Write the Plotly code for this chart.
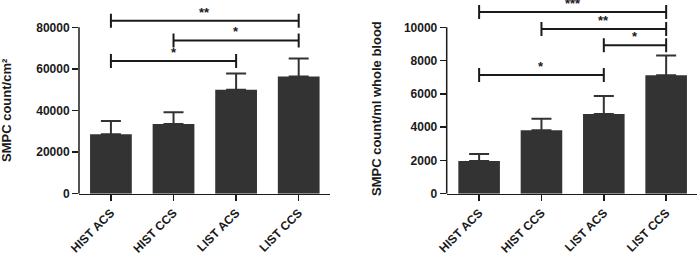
import plotly.graph_objects as go

categories = ["HIST ACS", "HIST CCS", "LIST ACS", "LIST CCS"]

tissue_mean = [28600, 33500, 50000, 56300]
tissue_sem = [6400, 5700, 7800, 8700]

blood_mean = [1970, 3810, 4790, 7120]
blood_sem = [410, 690, 1080, 1180]

tissue_ticks = [0, 20000, 40000, 60000, 80000]
blood_ticks = [0, 2000, 4000, 6000, 8000, 10000]

# significance brackets: (from index, to index, level, label)
tissue_sig = [(0, 3, 83200, "**"), (1, 3, 73700, "*"), (0, 2, 63800, "*")]
blood_sig = [(0, 3, 10920, "***"), (1, 3, 9900, "**"), (2, 3, 8920, "*"), (0, 2, 7130, "*")]

BAR = "#333333"
INK = "#1a1a1a"
FONT = "Liberation Sans, Arial, sans-serif"

W, H = 700, 253
y0_px = 193.7  # pixel row of value 0
px_per_unit_t = 166.4 / 80000
px_per_unit_b = 166.4 / 10000

fig = go.Figure()
xs = list(range(len(categories)))

fig.add_trace(go.Bar(x=xs, y=tissue_mean, marker=dict(color=BAR, line=dict(width=0)),
                     error_y=dict(type="data", symmetric=False, array=tissue_sem,
                                  arrayminus=[0] * 4, color=BAR, thickness=2, width=10),
                     xaxis="x", yaxis="y", showlegend=False, hoverinfo="skip"))
fig.add_trace(go.Bar(x=xs, y=blood_mean, marker=dict(color=BAR, line=dict(width=0)),
                     error_y=dict(type="data", symmetric=False, array=blood_sem,
                                  arrayminus=[0] * 4, color=BAR, thickness=2, width=10),
                     xaxis="x2", yaxis="y2", showlegend=False, hoverinfo="skip"))

dom_bottom = 1 - y0_px / H
t_top = y0_px / 166.4 * 80000
b_top = y0_px / 166.4 * 10000

tickfont = dict(family=FONT, size=12, color=INK, weight="bold")
common_x = dict(showline=True, linecolor=INK, linewidth=1.5, ticks="outside", ticklen=6,
                tickwidth=1.5, tickcolor=INK, tickangle=-45, tickfont=tickfont,
                showgrid=False, zeroline=False, tickvals=xs, automargin=False,
                ticktext=["<b>%s</b>" % c for c in categories])
common_y = dict(showline=False, ticks="outside", ticklen=6, tickwidth=1.5, tickcolor=INK,
                tickfont=tickfont, showgrid=False, zeroline=False, automargin=False)

fig.update_layout(
    width=W, height=H,
    margin=dict(l=0, r=0, t=0, b=0, autoexpand=False),
    paper_bgcolor="white", plot_bgcolor="white",
    bargap=0.333,
    xaxis=dict(domain=[79 / W, 330 / W], range=[-0.51, 3.5], anchor="y", **common_x),
    yaxis=dict(domain=[dom_bottom, 1], range=[0, t_top], anchor="x",
               tickvals=tissue_ticks, ticktext=["<b>%d</b>" % v for v in tissue_ticks], **common_y),
    xaxis2=dict(domain=[446.7 / W, 696.7 / W], range=[-0.52, 3.49], anchor="y2", **common_x),
    yaxis2=dict(domain=[dom_bottom, 1], range=[0, b_top], anchor="x2",
                tickvals=blood_ticks, ticktext=["<b>%d</b>" % v for v in blood_ticks], **common_y),
)

shapes = []
annotations = []
# y axis lines up to the top tick only
shapes.append(dict(type="line", xref="x domain", yref="y", x0=0, x1=0, y0=0, y1=tissue_ticks[-1],
                   line=dict(color=INK, width=1.5)))
shapes.append(dict(type="line", xref="x2 domain", yref="y2", x0=0, x1=0, y0=0, y1=blood_ticks[-1],
                   line=dict(color=INK, width=1.5)))


def add_brackets(sig, xref, yref, ppu):
    end = 7 / ppu
    for a, b, lvl, lab in sig:
        ln = dict(color=INK, width=2)
        shapes.append(dict(type="line", xref=xref, yref=yref, x0=a, x1=b, y0=lvl, y1=lvl, line=ln))
        shapes.append(dict(type="line", xref=xref, yref=yref, x0=a, x1=a, y0=lvl - end, y1=lvl + end, line=ln))
        shapes.append(dict(type="line", xref=xref, yref=yref, x0=b, x1=b, y0=lvl - end, y1=lvl + end, line=ln))
        annotations.append(dict(x=(a + b) / 2, y=lvl, xref=xref, yref=yref, text="<b>%s</b>" % lab,
                                showarrow=False, yanchor="bottom", yshift=-1,
                                font=dict(family=FONT, size=13, color=INK)))


add_brackets(tissue_sig, "x", "y", px_per_unit_t)
add_brackets(blood_sig, "x2", "y2", px_per_unit_b)

titlefont = dict(family=FONT, size=13, color=INK)
annotations.append(dict(x=7 / W, y=1 - 110 / H, xref="paper", yref="paper",
                        text="<b>SMPC count/cm²</b>", textangle=-90, showarrow=False,
                        font=titlefont, xanchor="center", yanchor="middle"))
annotations.append(dict(x=377 / W, y=1 - 109 / H, xref="paper", yref="paper",
                        text="<b>SMPC count/ml whole blood</b>", textangle=-90, showarrow=False,
                        font=titlefont, xanchor="center", yanchor="middle"))

fig.update_layout(shapes=shapes, annotations=annotations, hovermode=False)

fig.write_html("out.html", config={"displayModeBar": False, "staticPlot": True},
               post_script="document.body.style.margin='0';document.body.style.overflow='hidden';")
